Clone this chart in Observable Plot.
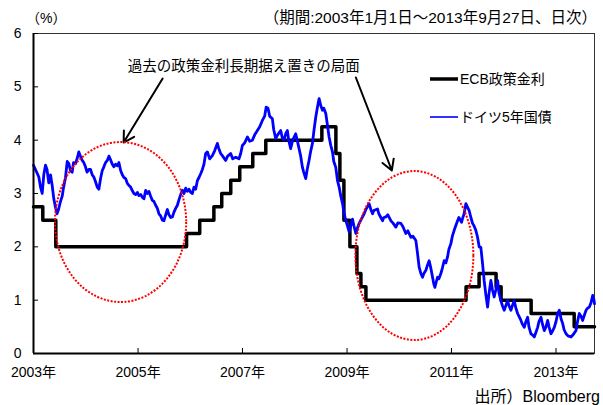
<!DOCTYPE html>
<html><head><meta charset="utf-8">
<script src="https://cdn.jsdelivr.net/npm/d3@7"></script>
<script src="https://cdn.jsdelivr.net/npm/@observablehq/plot@0.6"></script>
<style>
body{margin:0;background:#fff;}
#wrap{width:603px;height:405px;}
</style></head><body><div id="wrap"></div>
<script>
// ECB main refinancing rate (step dates, %)
const ecbDates = ["2003-01-01","2003-03-07","2003-06-06","2005-12-06","2006-03-08","2006-06-15","2006-08-09","2006-10-11","2006-12-13","2007-03-14","2007-06-13","2008-07-09","2008-10-15","2008-11-12","2008-12-10","2009-01-21","2009-03-11","2009-04-08","2009-05-13","2011-04-13","2011-07-13","2011-11-09","2011-12-14","2012-07-11","2013-05-08","2013-09-27"];
const ecbRates = [2.75,2.5,2.0,2.25,2.5,2.75,3.0,3.25,3.5,3.75,4.0,4.25,3.75,3.25,2.5,2.0,1.5,1.25,1.0,1.25,1.5,1.25,1.0,0.75,0.5,0.5];

// German 5y bund yield: [years since 2003-01-01, yield %]
const bundPoints = [[0.000,3.53],[0.038,3.45],[0.102,3.31],[0.134,3.12],[0.167,3.00],[0.197,3.35],[0.230,3.53],[0.259,3.45],[0.293,3.20],[0.326,3.35],[0.358,3.15],[0.389,2.90],[0.421,2.74],[0.450,2.62],[0.479,2.70],[0.517,2.85],[0.550,2.95],[0.575,3.11],[0.613,3.30],[0.646,3.60],[0.676,3.56],[0.709,3.43],[0.741,3.40],[0.766,3.58],[0.805,3.56],[0.843,3.68],[0.868,3.78],[0.900,3.70],[0.933,3.62],[0.958,3.59],[0.996,3.50],[1.025,3.40],[1.059,3.45],[1.092,3.45],[1.125,3.35],[1.155,3.31],[1.188,3.22],[1.220,3.12],[1.251,3.08],[1.284,3.28],[1.316,3.43],[1.347,3.50],[1.379,3.58],[1.412,3.62],[1.443,3.70],[1.475,3.63],[1.508,3.55],[1.538,3.50],[1.571,3.55],[1.603,3.52],[1.634,3.58],[1.667,3.43],[1.699,3.35],[1.730,3.30],[1.762,3.28],[1.795,3.19],[1.826,3.15],[1.858,3.12],[1.891,3.05],[1.921,3.00],[1.954,2.98],[1.987,3.02],[2.017,2.96],[2.050,2.98],[2.082,2.93],[2.113,2.90],[2.146,3.06],[2.178,3.00],[2.209,3.04],[2.241,2.95],[2.274,2.87],[2.305,2.85],[2.337,2.78],[2.370,2.72],[2.400,2.62],[2.433,2.58],[2.466,2.50],[2.496,2.49],[2.529,2.60],[2.561,2.70],[2.592,2.60],[2.625,2.55],[2.657,2.56],[2.688,2.65],[2.720,2.72],[2.753,2.78],[2.783,2.88],[2.816,2.98],[2.849,3.06],[2.879,3.00],[2.912,3.10],[2.944,3.04],[2.975,3.08],[3.008,3.02],[3.040,3.00],[3.071,3.12],[3.103,3.08],[3.136,3.24],[3.167,3.30],[3.199,3.37],[3.232,3.45],[3.262,3.55],[3.295,3.75],
[3.328,3.78],[3.372,3.65],[3.423,3.71],[3.467,3.80],[3.519,3.94],[3.544,3.85],[3.582,3.75],[3.621,3.70],[3.678,3.62],[3.716,3.70],[3.774,3.75],[3.812,3.65],[3.870,3.68],[3.933,3.65],[3.966,3.75],[3.998,3.90],[4.042,3.95],[4.094,4.06],[4.138,3.98],[4.190,4.00],[4.234,4.10],[4.285,4.18],[4.330,4.25],[4.381,4.37],[4.425,4.45],[4.454,4.62],[4.489,4.60],[4.521,4.45],[4.573,4.40],[4.598,4.20],[4.636,4.03],[4.674,4.10],[4.732,4.18],[4.761,4.05],[4.795,4.00],[4.828,4.12],[4.860,4.18],[4.885,4.00],[4.923,3.84],[4.962,4.00],[5.019,4.12],[5.048,4.00],[5.077,3.87],[5.115,3.70],[5.148,3.49],[5.172,3.40],[5.211,3.28],[5.239,3.45],[5.274,3.62],[5.307,3.80],[5.339,3.94],[5.364,4.15],[5.402,4.43],[5.431,4.60],[5.466,4.78],[5.498,4.65],[5.531,4.56],[5.556,4.60],[5.594,4.50],[5.623,4.30],[5.657,4.06],[5.690,3.90],[5.722,3.78],[5.747,3.60],[5.785,3.49],[5.818,3.24],[5.849,3.12],[5.881,2.95],[5.914,2.81],[5.939,2.65],[5.977,2.49],[6.006,2.40],[6.040,2.28],[6.073,2.40],[6.105,2.52],[6.130,2.40],[6.169,2.25],[6.197,2.35],[6.232,2.44],[6.264,2.50],[6.328,2.62],[6.360,2.70],[6.389,2.75],[6.423,2.81],[6.456,2.70],[6.489,2.62],[6.513,2.68],[6.584,2.71],[6.609,2.62],[6.647,2.55],[6.680,2.49],[6.705,2.55],[6.743,2.56],[6.782,2.60],[6.839,2.49],[6.877,2.45],[6.935,2.37],[6.973,2.45],[7.031,2.44],[7.069,2.38],[7.126,2.25],[7.165,2.30],[7.222,2.18],[7.261,2.20],[7.318,2.12],[7.347,1.90],[7.381,1.62],[7.414,1.50],[7.446,1.43],[7.471,1.50],[7.510,1.56],[7.538,1.65],[7.573,1.74],[7.605,1.60],[7.638,1.43],[7.663,1.30],[7.682,1.24],[7.711,1.35],[7.734,1.43],[7.759,1.40],[7.797,1.50],[7.826,1.60],[7.860,1.74],[7.893,1.70],[7.925,1.81],[7.950,1.95],[7.989,2.06],[8.017,2.20],[8.052,2.31],[8.084,2.40],[8.117,2.49],[8.142,2.55],[8.193,2.46],[8.218,2.55],[8.243,2.62],[8.276,2.81],[8.305,2.75],[8.339,2.68],[8.372,2.55],[8.404,2.44],[8.429,2.40],[8.467,2.31],[8.500,2.18],[8.531,2.00],[8.563,1.99],[8.596,1.68],[8.626,1.37],[8.659,1.10],[8.692,0.87],[8.716,1.10],[8.755,1.37],[8.784,1.20],[8.818,1.06],[8.851,1.20],[8.883,1.37],[8.908,1.15],[8.946,0.99],[8.975,0.90],[9.010,0.81],[9.042,0.90],[9.075,0.99],[9.100,0.90],[9.138,0.81],[9.167,0.90],[9.201,0.99],[9.234,0.85],[9.266,0.75],[9.291,0.70],[9.330,0.62],[9.358,0.55],[9.393,0.49],[9.425,0.60],[9.458,0.68],[9.483,0.50],[9.521,0.37],[9.550,0.35],[9.584,0.31],[9.617,0.40],[9.649,0.49],[9.674,0.60],[9.713,0.68],[9.741,0.55],[9.776,0.43],[9.808,0.50],[9.841,0.62],[9.866,0.50],[9.904,0.37],[9.933,0.42],[9.967,0.49],[10.000,0.60],[10.032,0.75],[10.063,0.81],[10.096,0.65],[10.128,0.56],[10.153,0.45],[10.192,0.37],[10.230,0.33],[10.287,0.31],[10.326,0.35],[10.383,0.43],[10.412,0.60],[10.446,0.75],[10.479,0.70],[10.511,0.62],[10.536,0.70],[10.575,0.81],[10.603,0.85],[10.638,0.87],[10.670,0.95],[10.703,1.09],[10.728,1.00],[10.737,0.93]];

const yTicks = [0,1,2,3,4,5,6];
const xTickDates = ["2003-01-01","2005-01-01","2007-01-01","2009-01-01","2011-01-01","2013-01-01"];
const xTickLabels = ["2003年","2005年","2007年","2009年","2011年","2013年"];
const seriesNames = ["ECB政策金利","ドイツ5年国債"];
const seriesColors = ["#000000","#0000ff"];
const unitLabel = "（%）";
const periodLabel = "（期間:2003年1月1日～2013年9月27日、日次）";
const sourceLabel = "出所）Bloomberg";
const noteLabel = "過去の政策金利長期据え置きの局面";
// annotation geometry in data space: [centre year, centre %, half-width years, half-height %]
const ellipses = [[2004.676,2.456,1.255,1.50],[2010.299,1.828,1.130,1.584]];
const arrows = [{x1:2005.471,y1:5.156,x2:2004.724,y2:3.956},{x1:2009.169,y1:5.175,x2:2009.858,y2:3.431}];
const notePos = {x:2007.023, y:5.38};

function fromYear(t){const y=Math.floor(t);const s=Date.UTC(y,0,1),e=Date.UTC(y+1,0,1);return new Date(s+(t-y)*(e-s));}
const ecb = ecbDates.map((d,i)=>({date:new Date(d), rate:ecbRates[i]}));
const bund = bundPoints.map(([t,v])=>({date:fromYear(2003+t), v}));
const xTicks = xTickDates.map(d=>new Date(d));
const FONT = "'Liberation Sans','Noto Sans CJK JP',sans-serif";

const chart = Plot.plot({
  width:603, height:405, marginLeft:33, marginRight:9, marginTop:33, marginBottom:52,
  style:{fontFamily:FONT, fontSize:"14px", color:"#000", background:"#fff"},
  x:{type:"utc", domain:[new Date("2003-01-01"), new Date("2013-09-27")]},
  y:{domain:[0,6]},
  marks:[
    Plot.frame({stroke:"#333", strokeWidth:1}),
    Plot.axisY(yTicks, {tickSize:-5, tickPadding:17, tickFormat:d=>String(d), stroke:"#000", strokeWidth:1}),
    Plot.axisX(xTicks, {tickSize:-5, tickPadding:19, tickFormat:(d,i)=>xTickLabels[i], stroke:"#000"}),
    Plot.line(ecb, {x:"date", y:"rate", curve:"step-after", stroke:seriesColors[0], strokeWidth:3.5}),
    Plot.line(bund, {x:"date", y:"v", stroke:seriesColors[1], strokeWidth:2.8}),
    Plot.ruleX([new Date("2003-01-01")], {stroke:"#000", strokeWidth:2}),
    Plot.ruleY([0], {stroke:"#000", strokeWidth:2}),
    Plot.arrow(arrows.map(a=>({...a, x1:fromYear(a.x1), x2:fromYear(a.x2)})), {x1:"x1", y1:"y1", x2:"x2", y2:"y2", stroke:"#000", strokeWidth:2, headLength:9, bend:0}),
    Plot.text([notePos], {x:d=>fromYear(d.x), y:"y", text:()=>noteLabel, fontSize:14.5, fill:"#000"})
  ]
});
document.getElementById("wrap").appendChild(chart);

const svg = d3.select(chart);
const sx = chart.scale("x"), sy = chart.scale("y");
for (const [cx,cy,rx,ry] of ellipses) {
  const px = sx.apply(fromYear(cx)), py = sy.apply(cy);
  svg.append("ellipse").attr("cx",px).attr("cy",py)
    .attr("rx", sx.apply(fromYear(cx+rx)) - px).attr("ry", py - sy.apply(cy+ry))
    .attr("fill","none").attr("stroke","#ff0000").attr("stroke-width",2).attr("stroke-dasharray","2,1.5");
}
// legend
const lg = svg.append("g").attr("font-family",FONT).attr("font-size",14).attr("text-anchor","start");
seriesNames.forEach((n,i)=>{
  const y = 79 + i*38;
  lg.append("line").attr("x1",430).attr("x2",458).attr("y1",y).attr("y2",y).attr("stroke",seriesColors[i]).attr("stroke-width",i===0?3.5:1.6);
  lg.append("text").attr("x",460).attr("y",y).attr("dy","0.35em").text(n);
});
const tg = svg.append("g").attr("font-family",FONT).attr("fill","#000");
tg.append("text").attr("x",26).attr("y",23).attr("text-anchor","start").attr("font-size",14).text(unitLabel);
tg.append("text").attr("x",597).attr("y",23).attr("text-anchor","end").attr("font-size",15.5).text(periodLabel);
tg.append("text").attr("x",600).attr("y",402).attr("text-anchor","end").attr("font-size",16).text(sourceLabel);
</script></body></html>
